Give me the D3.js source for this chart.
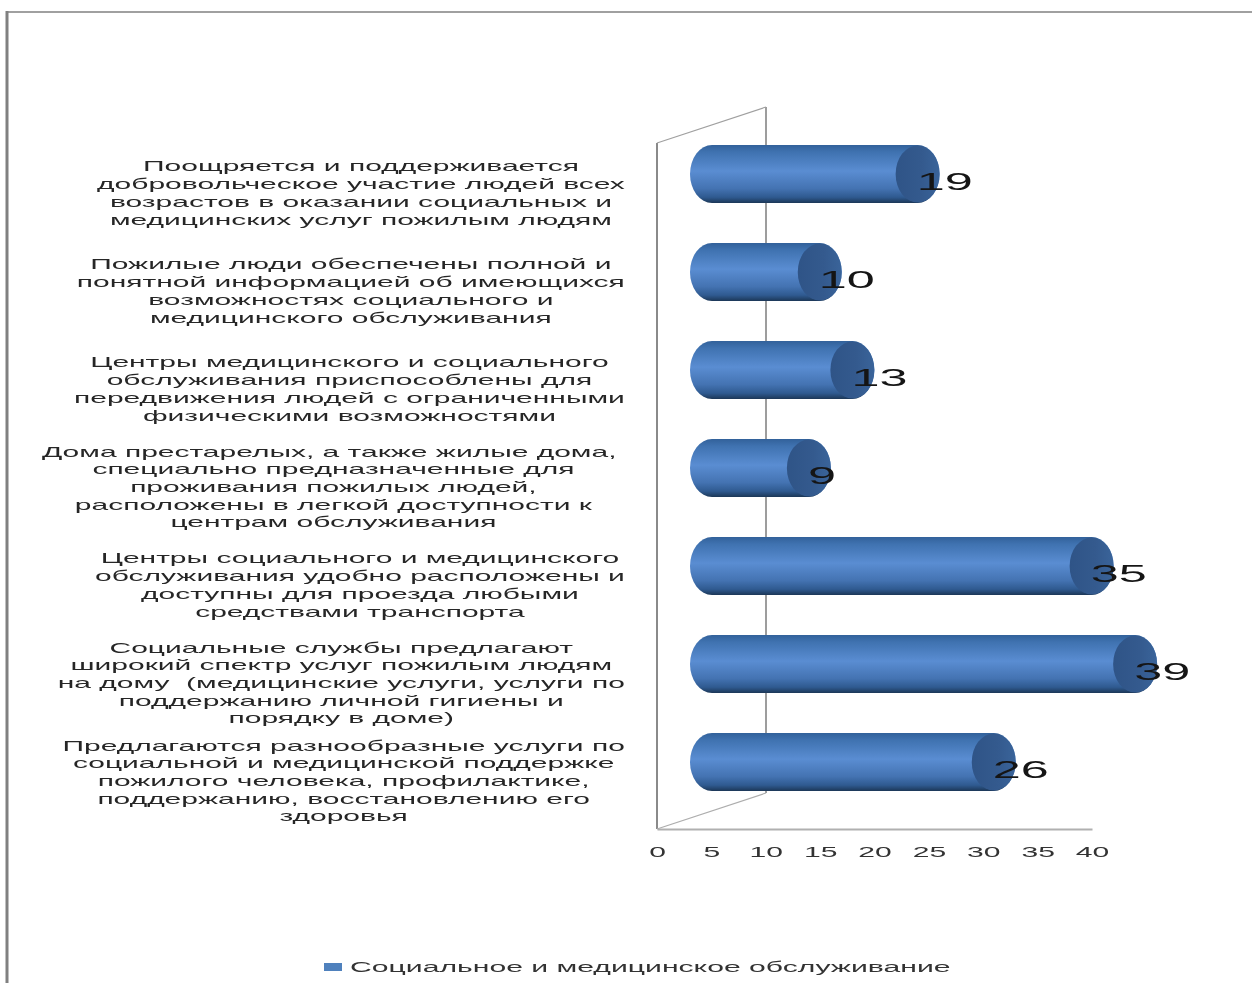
<!DOCTYPE html>
<html><head><meta charset="utf-8">
<script src="https://cdn.jsdelivr.net/npm/d3@7/dist/d3.min.js"></script>
<style>html,body{margin:0;padding:0;background:#fff;overflow:hidden}svg{display:block;filter:blur(0.5px)}</style>
</head><body><svg id="c" width="1252" height="983"></svg>
<script>
const categories = [
 ["Поощряется и поддерживается","добровольческое участие людей всех","возрастов в оказании социальных и","медицинских услуг пожилым людям"],
 ["Пожилые люди обеспечены полной и","понятной информацией об имеющихся","возможностях социального и","медицинского обслуживания"],
 ["Центры медицинского и социального","обслуживания приспособлены для","передвижения людей с ограниченными","физическими возможностями"],
 ["Дома престарелых, а также жилые дома,\u00a0","специально предназначенные для","проживания пожилых людей,","расположены в легкой доступности к","центрам обслуживания"],
 ["Центры социального и медицинского","обслуживания удобно расположены и","доступны для проезда любыми","средствами транспорта"],
 ["Социальные службы предлагают","широкий спектр услуг пожилым людям","на дому  (медицинские услуги, услуги по","поддержанию личной гигиены и","порядку в доме)"],
 ["Предлагаются разнообразные услуги по","социальной и медицинской поддержке","пожилого человека, профилактике,","поддержанию, восстановлению его","здоровья"]
];
const values = [19,10,13,9,35,39,26];
const xTicks = [0,5,10,15,20,25,30,35,40];
const seriesName = "Социальное и медицинское обслуживание";

const svg = d3.select("#c");
const font = "'Liberation Sans', Arial, sans-serif";
const depthX = 109, depthY = 36;
const plotL = 657, plotR = 1092, plotT = 143, plotB = 829;
const x = d3.scaleLinear().domain([0,40]).range([plotL,plotR]);
const y = d3.scaleBand().domain(d3.range(categories.length)).range([plotT-depthY/2,plotB-depthY/2]);

// frame
svg.append("line").attr("x1",6).attr("x2",1252).attr("y1",12).attr("y2",12).attr("stroke","#a0a0a0").attr("stroke-width",2);
svg.append("line").attr("x1",7).attr("x2",7).attr("y1",11).attr("y2",983).attr("stroke","#808080").attr("stroke-width",3);

// gradient
const defs = svg.append("defs");
const g = defs.append("linearGradient").attr("id","cyl").attr("x1",0).attr("x2",0).attr("y1",0).attr("y2",1);
[[0,"#32619a"],[.12,"#3f72b0"],[.45,"#5a8dd2"],[.75,"#4473b2"],[.9,"#2f5a90"],[1,"#1c3757"]]
 .forEach(s=>g.append("stop").attr("offset",s[0]).attr("stop-color",s[1]));
const gc = defs.append("linearGradient").attr("id","cap").attr("x1",0).attr("x2",1).attr("y1",0).attr("y2",0);
[[0,"#2f5487"],[.6,"#345a8e"],[1,"#3a649a"]].forEach(s=>gc.append("stop").attr("offset",s[0]).attr("stop-color",s[1]));

// walls
const wall = svg.append("g").attr("fill","none");
const wallLine = (x1,y1,x2,y2,c,w)=>wall.append("line").attr("x1",x1).attr("y1",y1).attr("x2",x2).attr("y2",y2).attr("stroke",c).attr("stroke-width",w);
wallLine(plotL,plotT,plotL,plotB,"#8a8a8a",2);
wallLine(plotL+depthX,plotT-depthY,plotL+depthX,plotB-depthY,"#7d7d7d",1.5);
wallLine(plotL,plotT,plotL+depthX,plotT-depthY,"#a0a0a0",1.2);
wallLine(plotL,plotB,plotL+depthX,plotB-depthY,"#adadad",1.2);

// axis
const axis = d3.axisBottom(x).tickValues(xTicks).tickSize(0).tickPadding(18);
const ag = svg.append("g").attr("transform",`translate(0,${plotB})`).call(axis);
ag.select(".domain").attr("stroke","#b0b0b0").attr("stroke-width",2);
ag.selectAll("text").attr("font-family",font).attr("font-size",14).attr("fill","#333").attr("transform","scale(2.15,1)");

// bars
const rx = 22, barH = 58, shift = depthX/2 - 0.5;
const bars = svg.append("g").selectAll("g").data(values).join("g");
bars.each(function(v,i){
  const s = d3.select(this);
  const cy = y(i)+y.bandwidth()/2, t = cy-barH/2, b = cy+barH/2, x0 = x(0)+shift+1, x1 = x(v)+shift;
  s.append("path").attr("d",`M${x0},${t}L${x1},${t}A${rx},${barH/2} 0 0 1 ${x1},${b}L${x0},${b}A${rx},${barH/2} 0 0 1 ${x0},${t}Z`).attr("fill","url(#cyl)");
  s.append("ellipse").attr("cx",x1).attr("cy",cy).attr("rx",rx).attr("ry",barH/2-0.5).attr("fill","url(#cap)");
  s.append("text").attr("transform",`translate(${x1-1},${cy+16}) scale(2.1,1)`)
   .attr("font-family",font).attr("font-size",24).attr("fill","#151515").text(v);
});

// category labels
const labelScale = 2.0, labelRight = 625, lineH = 17.7;
const labels = svg.append("g").selectAll("g").data(categories).join("g");
labels.each(function(lines,i){
  const cy = y(i)+y.bandwidth()/2;
  const s = d3.select(this);
  const ts = s.selectAll("text").data(lines).join("text")
    .attr("font-family",font).attr("font-size",15).attr("fill","#262626")
    .attr("text-anchor","middle").style("white-space","pre").text(d=>d);
  let w = 0; ts.each(function(){w=Math.max(w,this.getComputedTextLength()*labelScale)});
  const cx = labelRight - w/2;
  ts.attr("transform",(d,j)=>`translate(${cx},${cy + (j-(lines.length-1)/2)*lineH + 24}) scale(${labelScale},1)`);
});

// legend
svg.append("rect").attr("x",324).attr("y",963).attr("width",18).attr("height",8).attr("fill","#4f81bd");
svg.append("text").attr("transform","translate(350,972) scale(2.08,1)")
  .attr("font-family",font).attr("font-size",14.5).attr("fill","#333").text(seriesName);
</script></body></html>
